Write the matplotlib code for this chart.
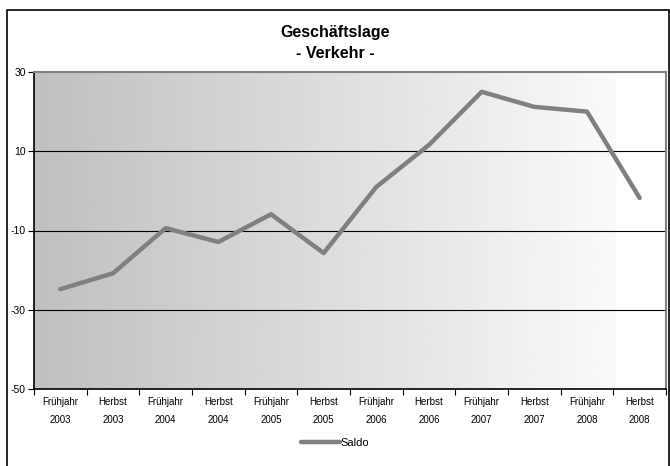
import numpy as np
import matplotlib.pyplot as plt
from matplotlib.patches import Rectangle

# Saldo Geschaeftslage Verkehr
seasons = ["Frühjahr", "Herbst"] * 6
years = ["2003", "2003", "2004", "2004", "2005", "2005",
         "2006", "2006", "2007", "2007", "2008", "2008"]
saldo = [-24.8, -20.8, -9.4, -12.9, -5.9, -15.7, 1.0, 11.6, 25.0, 21.2, 20.0, -1.8]
yticks = [-50, -30, -10, 10, 30]

plt.rcParams['font.family'] = ['Liberation Sans', 'DejaVu Sans']

fig = plt.figure(figsize=(6.7, 4.66), dpi=100)
ax = fig.add_axes([34/670, 1 - 389/466, 632/670, 317/466])

n = len(saldo)
x = np.arange(n)

# grey-to-white gradient background
grad = np.linspace(0.75, 1.0, 256).reshape(1, -1)
grad = np.clip(grad + 0.02 * (np.arange(256) > 235), 0, 1)
ax.imshow(grad, cmap="gray", vmin=0, vmax=1, aspect="auto",
          extent=[-0.5, n - 0.5, -50, 30], zorder=0)

for v in [10, -10, -30]:
    ax.axhline(v, color="black", lw=0.8, zorder=1)

ax.plot(x, saldo, color="#808080", lw=3.2, solid_capstyle="round",
        solid_joinstyle="round", label="Saldo", zorder=3)

ax.set_xlim(-0.5, n - 0.5)
ax.set_ylim(-50, 30)
ax.set_yticks(yticks)
ax.set_yticklabels([str(t) for t in yticks], fontsize=7.5)
ax.set_xticks(np.arange(n + 1) - 0.5)
ax.set_xticklabels([])
ax.set_xticks(x, minor=True)
ax.set_xticklabels([f"{s}\n{y}" for s, y in zip(seasons, years)],
                   minor=True, fontsize=7, linespacing=2.0)
ax.tick_params(axis="x", which="minor", length=0, pad=6)
ax.tick_params(axis="x", which="major", length=4, direction="out")
ax.tick_params(axis="y", length=4, direction="out", pad=2)

ax.spines["top"].set_color("#808080")
ax.spines["right"].set_color("#808080")
ax.spines["top"].set_linewidth(1.5)
ax.spines["right"].set_linewidth(1.5)
ax.spines["left"].set_linewidth(1.2)
ax.spines["bottom"].set_linewidth(1.2)

fig.text(0.5, 1 - 32/466, "Geschäftslage", ha="center", va="center",
         fontsize=11.5, fontweight="semibold")
fig.text(0.5, 1 - 54/466, "- Verkehr -", ha="center", va="center",
         fontsize=11.5, fontweight="semibold")

fig.legend(loc="center", bbox_to_anchor=(0.5, 1 - 443/466), frameon=False,
           fontsize=8, handlelength=3.5, handletextpad=0.1)

# outer chart border
fig.patches.append(Rectangle((7/670, -0.05), 662/670, 1 - 10/466 + 0.05,
                             transform=fig.transFigure, fill=False,
                             edgecolor="black", lw=1.2))

fig.savefig("out.png", dpi=100)
